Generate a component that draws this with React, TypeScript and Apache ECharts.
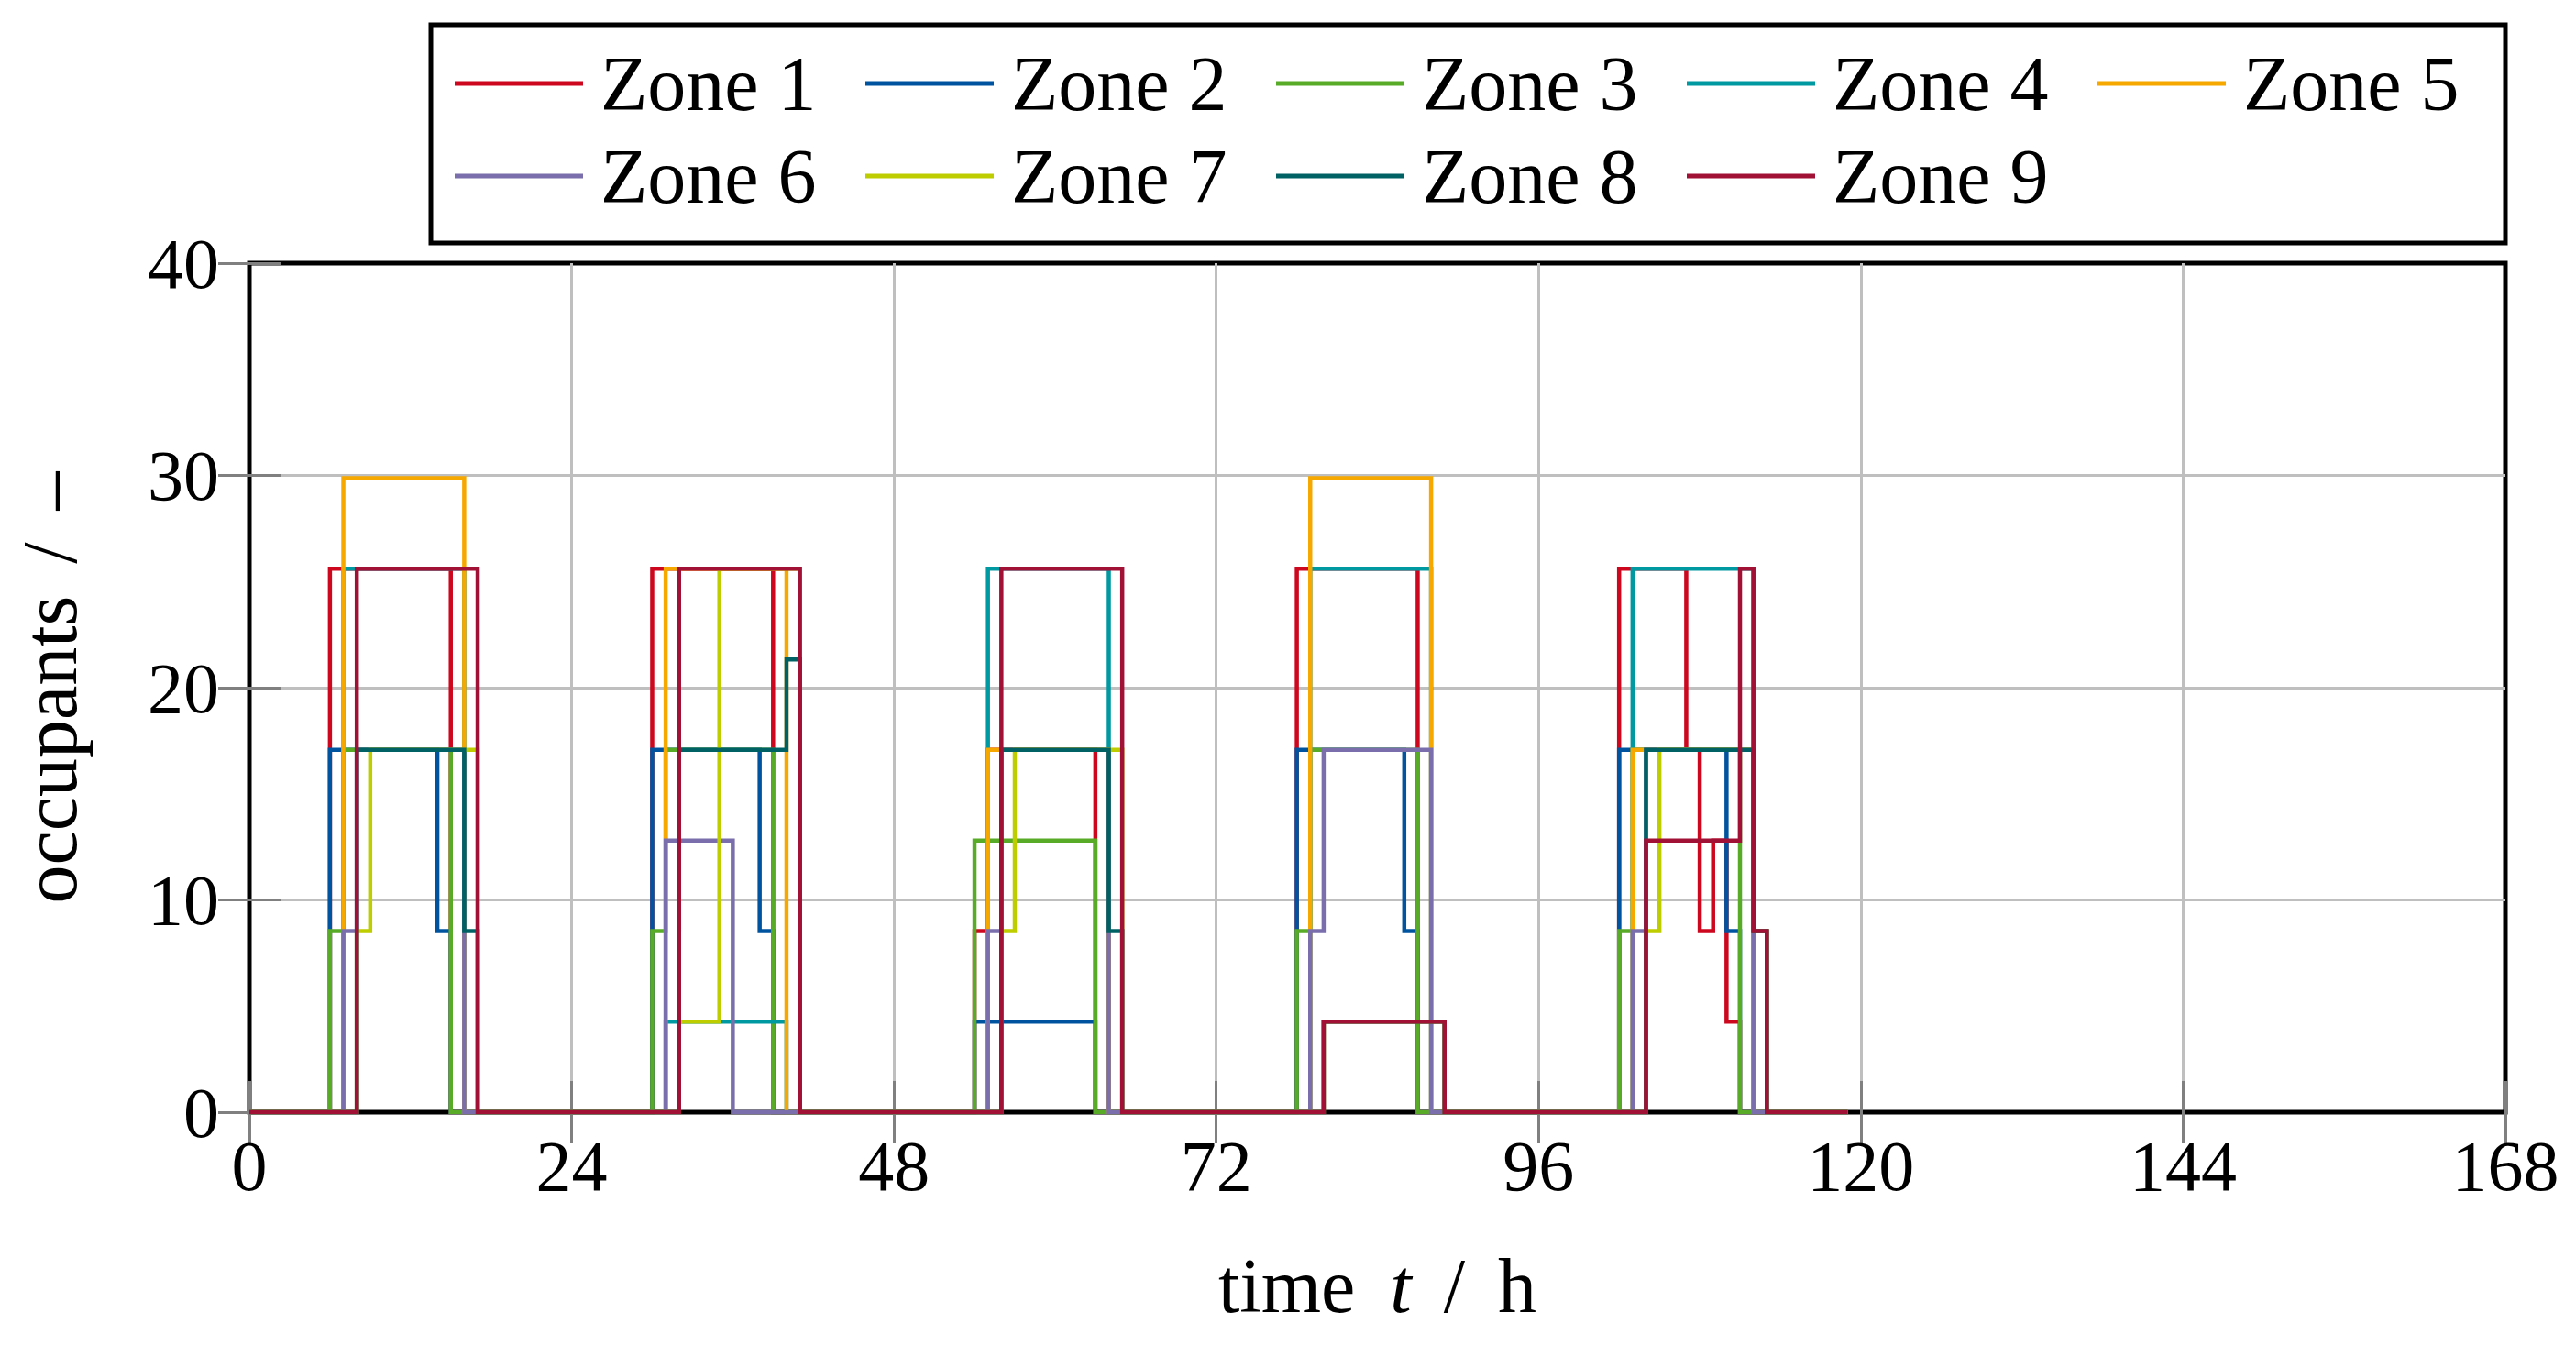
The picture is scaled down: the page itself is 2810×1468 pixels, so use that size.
import React, { useEffect, useRef } from "react";
import * as echarts from "echarts";

// occupants per zone, step changes [time h, occupants] (value holds until the next point)
const zoneNames = ["Zone 1", "Zone 2", "Zone 3", "Zone 4", "Zone 5", "Zone 6", "Zone 7", "Zone 8", "Zone 9"];
const zoneColors = ["#CC071E", "#00549F", "#57AB27", "#0098A1", "#F6A800", "#7A6FAC", "#BDCD00", "#006165", "#A11035"];

const zone1 = [[0, 0], [6, 25.6], [15, 0], [30, 25.6], [39, 0], [54, 8.53], [55, 17.07], [63, 0], [78, 25.6], [87, 0], [102, 25.6], [107, 17.07], [108, 8.53], [109, 12.8], [110, 4.27], [111, 0], [119, 0]];
const zone2 = [[0, 0], [6, 17.07], [14, 8.53], [15, 0], [30, 17.07], [38, 8.53], [39, 0], [54, 4.27], [63, 0], [78, 17.07], [86, 8.53], [87, 0], [102, 17.07], [110, 8.53], [111, 0], [119, 0]];
const zone3 = [[0, 0], [6, 8.53], [7, 17.07], [15, 0], [30, 8.53], [31, 17.07], [39, 0], [54, 12.8], [63, 0], [78, 8.53], [79, 17.07], [87, 0], [102, 8.53], [103, 17.07], [111, 0], [119, 0]];
const zone4 = [[0, 0], [7, 25.6], [16, 0], [31, 4.27], [40, 0], [55, 25.6], [64, 0], [79, 25.6], [88, 0], [103, 25.6], [112, 0], [119, 0]];
const zone5 = [[0, 0], [7, 29.87], [16, 0], [31, 25.6], [40, 0], [55, 17.07], [64, 0], [79, 29.87], [88, 0], [103, 17.07], [112, 0], [119, 0]];
const zone6 = [[0, 0], [7, 8.53], [8, 17.07], [16, 0], [31, 12.8], [36, 0], [55, 8.53], [56, 17.07], [64, 0], [79, 8.53], [80, 17.07], [88, 0], [103, 8.53], [104, 17.07], [112, 0], [119, 0]];
const zone7 = [[0, 0], [8, 8.53], [9, 17.07], [17, 0], [32, 4.27], [35, 25.6], [41, 0], [56, 8.53], [57, 17.07], [65, 0], [80, 4.27], [89, 0], [104, 8.53], [105, 17.07], [112, 8.53], [113, 0], [119, 0]];
const zone8 = [[0, 0], [8, 17.07], [16, 8.53], [17, 0], [32, 17.07], [40, 21.33], [41, 0], [56, 17.07], [64, 8.53], [65, 0], [80, 4.27], [89, 0], [104, 17.07], [112, 8.53], [113, 0], [119, 0]];
const zone9 = [[0, 0], [8, 25.6], [17, 0], [32, 25.6], [41, 0], [56, 25.6], [65, 0], [80, 4.27], [89, 0], [104, 12.8], [111, 25.6], [112, 8.53], [113, 0], [119, 0]];
const zoneData = [zone1, zone2, zone3, zone4, zone5, zone6, zone7, zone8, zone9];

const xTicks = { min: 0, max: 168, interval: 24 };
const yTicks = { min: 0, max: 40, interval: 10 };

const FONT = "Liberation Serif";

export default function App() {
  const ref = useRef<HTMLDivElement>(null);
  useEffect(() => {
    document.body.style.margin = "0";
    const chart = echarts.init(ref.current!, null, { renderer: "svg" });
    const tickStyle = { show: true, inside: true, length: 34, lineStyle: { color: "#808080", width: 3 } };
    const splitStyle = { show: true, showMinLine: false, showMaxLine: false, lineStyle: { color: "#bfbfbf", width: 3 } };
    // one legend entry per component, laid out in a 5-column grid
    const legends = zoneNames.map((name, i) => ({
      data: [name],
      left: 496 + (i % 5) * 448,
      top: 49 + Math.floor(i / 5) * 101,
      padding: 0,
      itemWidth: 140,
      itemHeight: 5,
      icon: "rect",
      selectedMode: false,
      textStyle: { fontFamily: FONT, fontSize: 84, color: "#000", padding: [0, 0, 0, 14] },
    }));
    chart.setOption({
      animation: false,
      backgroundColor: "#fff",
      grid: {
        left: 272, right: 77, top: 287, bottom: 255,
        show: true, borderColor: "#000", borderWidth: 5,
        containLabel: false, outerBoundsMode: "none",
      },
      legend: legends,
      graphic: [
        {
          type: "rect",
          shape: { x: 470, y: 27, width: 2263, height: 238 },
          style: { fill: "none", stroke: "#000", lineWidth: 5 },
          silent: true,
        },
      ],
      xAxis: [
        {
          type: "value", ...xTicks, position: "bottom",
          axisLine: { show: false },
          axisTick: tickStyle,
          splitLine: splitStyle,
          axisLabel: { fontFamily: FONT, fontSize: 78, color: "#000", margin: 19 },
          name: "{r|time}{i|t}{s|/}{h|h}",
          nameLocation: "middle",
          nameGap: 147,
          nameTextStyle: {
            fontFamily: FONT, fontSize: 84, color: "#000",
            rich: {
              r: { fontFamily: FONT, fontSize: 84, color: "#000" },
              i: { fontFamily: FONT, fontSize: 84, color: "#000", fontStyle: "italic", padding: [0, 0, 0, 38] },
              s: { fontFamily: FONT, fontSize: 84, color: "#000", padding: [0, 0, 0, 35] },
              h: { fontFamily: FONT, fontSize: 84, color: "#000", padding: [0, 0, 0, 36] },
            },
          },
        },
        {
          type: "value", ...xTicks, position: "top",
          axisLine: { show: false }, axisTick: tickStyle,
          splitLine: { show: false }, axisLabel: { show: false },
        },
      ],
      yAxis: [
        {
          type: "value", ...yTicks, position: "left",
          axisLine: { show: false },
          axisTick: tickStyle,
          splitLine: splitStyle,
          axisLabel: { fontFamily: FONT, fontSize: 78, color: "#000", margin: 33 },
          name: "{r|occupants}{s|/}{d|–}",
          nameLocation: "middle",
          nameRotate: 90,
          nameGap: 176,
          nameTextStyle: {
            fontFamily: FONT, fontSize: 84, color: "#000",
            rich: {
              r: { fontFamily: FONT, fontSize: 84, color: "#000" },
              s: { fontFamily: FONT, fontSize: 84, color: "#000", padding: [0, 0, 0, 35] },
              d: { fontFamily: FONT, fontSize: 84, color: "#000", padding: [0, 0, 0, 35] },
            },
          },
        },
        {
          type: "value", ...yTicks, position: "right",
          axisLine: { show: false }, axisTick: tickStyle,
          splitLine: { show: false }, axisLabel: { show: false },
        },
      ],
      series: zoneData.map((d, i) => ({
        name: zoneNames[i],
        type: "line",
        step: "end",
        xAxisIndex: 0,
        yAxisIndex: 0,
        data: d,
        showSymbol: false,
        symbol: "none",
        color: zoneColors[i],
        itemStyle: { color: zoneColors[i] },
        lineStyle: { color: zoneColors[i], width: 4.5, join: "miter", cap: "butt" },
        emphasis: { disabled: true },
      })),
    });
    return () => chart.dispose();
  }, []);
  return <div ref={ref} style={{ position: "absolute", left: 0, top: 0, width: 2810, height: 1468 }} />;
}
